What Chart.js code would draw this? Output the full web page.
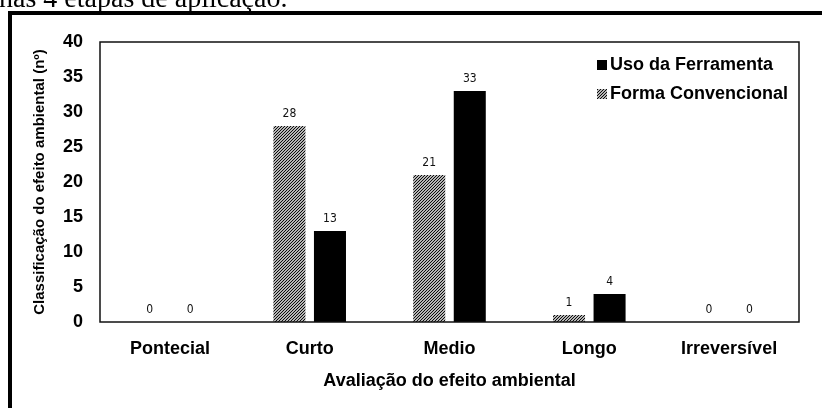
<!DOCTYPE html>
<html>
<head>
<meta charset="utf-8">
<script src="https://cdn.jsdelivr.net/npm/chart.js@4.4.1/dist/chart.umd.min.js"></script>
<style>
  html, body { margin: 0; padding: 0; background: #fff; }
  canvas { display: block; }
</style>
</head>
<body>
<canvas id="chart" width="822" height="408"></canvas>
<script>
// Categories of environmental effect and counts per method
const categories = ['Pontecial', 'Curto', 'Medio', 'Longo', 'Irreversível'];
const formaConvencional = [0, 28, 21, 1, 0];
const usoFerramenta = [0, 13, 33, 4, 0];
const yTicks = [0, 5, 10, 15, 20, 25, 30, 35, 40];

const SANS = '"Liberation Sans", Arial, sans-serif';
const NARROW = '"Liberation Sans Narrow", "DejaVu Sans Condensed", Arial, sans-serif';

// Diagonal hatch fill for the conventional-method bars
function makeHatch(size) {
  const c = document.createElement('canvas');
  c.width = size; c.height = size;
  const g = c.getContext('2d');
  g.fillStyle = '#fff';
  g.fillRect(0, 0, size, size);
  g.strokeStyle = '#000';
  g.lineWidth = 1.1;
  g.beginPath();
  g.moveTo(-1, size + 1); g.lineTo(size + 1, -1);
  g.moveTo(-1, 1); g.lineTo(1, -1);
  g.moveTo(size - 1, size + 1); g.lineTo(size + 1, size - 1);
  g.stroke();
  return g.createPattern(c, 'repeat');
}
const hatch = makeHatch(3);

// Outer frame and the caption line cut at the top edge
const pageFrame = {
  id: 'pageFrame',
  beforeDraw(chart) {
    const ctx = chart.ctx;
    ctx.save();
    ctx.fillStyle = '#fff';
    ctx.fillRect(0, 0, chart.width, chart.height);
    ctx.fillStyle = '#000';
    ctx.font = '28px "Liberation Serif", "Times New Roman", serif';
    ctx.textBaseline = 'alphabetic';
    ctx.textAlign = 'left';
    ctx.fillText('nas 4 etapas de aplicação.', -1, 7);
    ctx.fillRect(8, 11, chart.width - 8, 4);
    ctx.fillRect(8, 11, 4, chart.height - 11);
    ctx.restore();
  }
};

// Box around the plotting area
const plotBox = {
  id: 'plotBox',
  afterDatasetsDraw(chart) {
    const { ctx, chartArea: a } = chart;
    ctx.save();
    ctx.strokeStyle = '#111';
    ctx.lineWidth = 1.5;
    ctx.strokeRect(a.left, a.top, a.right - a.left, a.bottom - a.top);
    ctx.restore();
  }
};

// Value printed above each bar
const valueLabels = {
  id: 'valueLabels',
  afterDatasetsDraw(chart) {
    const ctx = chart.ctx;
    ctx.save();
    ctx.fillStyle = '#111';
    ctx.font = '12px ' + NARROW;
    ctx.textAlign = 'center';
    ctx.textBaseline = 'middle';
    chart.data.datasets.forEach((ds, i) => {
      chart.getDatasetMeta(i).data.forEach((bar, j) => {
        ctx.fillText(String(ds.data[j]), bar.x, bar.y - 12);
      });
    });
    ctx.restore();
  }
};

// Legend in the upper right of the plot, tool series listed first
const cornerLegend = {
  id: 'cornerLegend',
  afterDraw(chart) {
    const ctx = chart.ctx;
    const a = chart.chartArea;
    const items = chart.data.datasets.slice().reverse();
    ctx.save();
    ctx.font = 'bold 18px ' + SANS;
    ctx.textBaseline = 'middle';
    ctx.textAlign = 'left';
    const x0 = a.right - 202;
    items.forEach((ds, k) => {
      const y = a.top + 23 + k * 29;
      ctx.fillStyle = ds.backgroundColor;
      ctx.fillRect(x0, y - 5, 10, 10);
      ctx.fillStyle = '#000';
      ctx.fillText(ds.label, x0 + 13, y);
    });
    ctx.restore();
  }
};

new Chart(document.getElementById('chart'), {
  type: 'bar',
  data: {
    labels: categories,
    datasets: [
      { label: 'Forma Convencional', data: formaConvencional, backgroundColor: hatch, borderWidth: 0 },
      { label: 'Uso da Ferramenta', data: usoFerramenta, backgroundColor: '#000', borderWidth: 0 }
    ]
  },
  options: {
    responsive: false,
    animation: false,
    events: [],
    categoryPercentage: 0.58,
    barPercentage: 0.79,
    layout: { padding: { left: 0, top: 42, right: 23, bottom: 0 } },
    plugins: { legend: { display: false }, tooltip: { enabled: false } },
    scales: {
      x: {
        grid: { display: false, drawTicks: false },
        border: { display: false },
        ticks: { color: '#000', font: { family: SANS, size: 18, weight: 'bold' }, padding: 16, maxRotation: 0 },
        title: { display: true, text: 'Avaliação do efeito ambiental', color: '#000',
                 font: { family: SANS, size: 18, weight: 'bold' }, padding: { top: 0, bottom: 16 } },
        afterFit(s) { s.height = 86; }
      },
      y: {
        min: 0, max: 40,
        afterBuildTicks(s) { s.ticks = yTicks.map(v => ({ value: v })); },
        grid: { display: false, drawTicks: false },
        border: { display: false },
        ticks: { color: '#000', font: { family: SANS, size: 18, weight: 'bold' }, padding: 17 },
        title: { display: true, text: 'Classificação do efeito ambiental (nº)', color: '#000',
                 font: { family: SANS, size: 15, weight: 'bold' }, padding: { top: 31, bottom: 0 } },
        afterFit(s) { s.width = 100; }
      }
    }
  },
  plugins: [pageFrame, plotBox, valueLabels, cornerLegend]
});
</script>
</body>
</html>
